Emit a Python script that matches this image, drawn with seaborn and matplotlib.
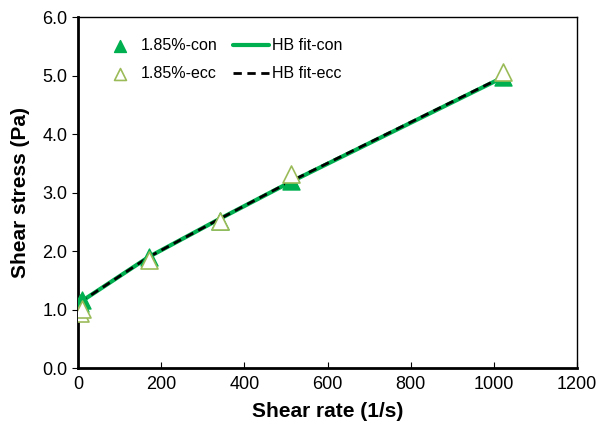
import pandas as pd
import numpy as np
import matplotlib
matplotlib.use("Agg")
import matplotlib.pyplot as plt
import seaborn as sns

# shear rates (1/s) of the viscometer readings
shear_rate = [5.11, 10.22, 170.3, 340.6, 510.9, 1021.8]

# measured shear stress (Pa)
stress_con = [1.12, 1.17, 1.90, 2.52, 3.20, 4.98]
stress_ecc = [0.94, 1.01, 1.85, 2.51, 3.31, 5.06]

# Herschel-Bulkley fit at the same rates
fit_con = [1.11, 1.15, 1.90, 2.55, 3.18, 4.97]
fit_ecc = [1.11, 1.15, 1.90, 2.55, 3.19, 4.98]

x_ticks = [0, 200, 400, 600, 800, 1000, 1200]
y_ticks = [0, 1, 2, 3, 4, 5, 6]

green = "#00B050"
olive = "#9BBB59"

sns.set_style("ticks")
plt.rcParams["font.family"] = ["Liberation Sans", "DejaVu Sans"]
plt.rcParams.update({
    "text.color": "black",
    "axes.labelcolor": "black",
    "axes.edgecolor": "black",
    "xtick.color": "black",
    "ytick.color": "black",
})

df = pd.DataFrame({
    "rate": shear_rate,
    "con": stress_con,
    "ecc": stress_ecc,
    "fit_con": fit_con,
    "fit_ecc": fit_ecc,
})

fig = plt.figure(figsize=(6.01, 4.26), dpi=100)
ax = fig.add_axes([0.1298, 0.136, 0.8305, 0.824])

sns.scatterplot(data=df, x="rate", y="con", ax=ax, marker="^", s=150,
                color=green, edgecolor=green, linewidth=1,
                label="1.85%-con", zorder=3)
sns.scatterplot(data=df, x="rate", y="ecc", ax=ax, marker="^", s=150,
                color="white", edgecolor=olive, linewidth=1.2,
                label="1.85%-ecc", zorder=4)
sns.lineplot(data=df, x="rate", y="fit_con", ax=ax, color=green,
             linewidth=3, label="HB fit-con", zorder=2)
sns.lineplot(data=df, x="rate", y="fit_ecc", ax=ax, color="black",
             linewidth=2, linestyle=(0, (3, 2)), label="HB fit-ecc",
             zorder=2.5)

ax.set_xlim(0, 1200)
ax.set_ylim(0, 6)
ax.set_xticks(x_ticks)
ax.set_yticks(y_ticks)
ax.set_yticklabels([f"{v:.1f}" for v in y_ticks])
ax.tick_params(axis="x", direction="in", length=4, labelsize=13, pad=6)
ax.tick_params(axis="y", direction="out", length=4, labelsize=13)

ax.set_xlabel("Shear rate (1/s)", fontsize=15, fontweight="bold", labelpad=6)
ax.set_ylabel("Shear stress (Pa)", fontsize=15, fontweight="bold", labelpad=9)

for side in ["left", "bottom"]:
    ax.spines[side].set_linewidth(2)
for side in ["top", "right"]:
    ax.spines[side].set_visible(True)
    ax.spines[side].set_linewidth(1)

handles, labels = ax.get_legend_handles_labels()
ax.legend(handles, labels, ncol=2, frameon=False, loc="upper left",
          bbox_to_anchor=(0.02, 0.98), fontsize=11.5, handlelength=2.2,
          handletextpad=0.2, markerscale=0.7, columnspacing=1.0,
          labelspacing=0.8)

fig.savefig("out.png", dpi=100)
